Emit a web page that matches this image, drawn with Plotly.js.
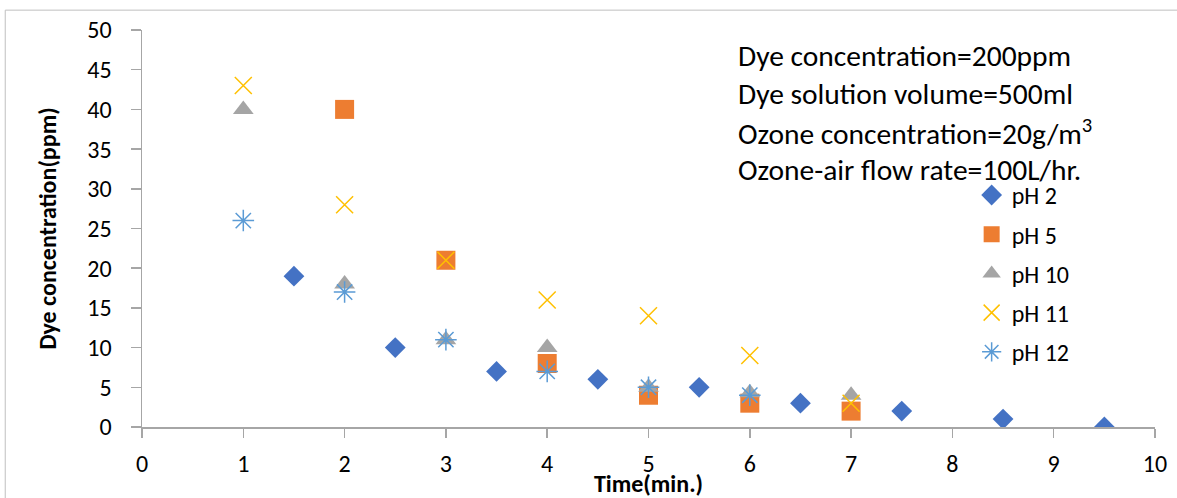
<!DOCTYPE html>
<html>
<head>
<meta charset="utf-8">
<script src="https://cdn.plot.ly/plotly-3.0.1.min.js"></script>
<style>
html,body{margin:0;padding:0;background:#fff;}
#chart{width:1177px;height:498px;}
</style>
</head>
<body>
<div id="chart"></div>
<script>
const seriesNames = ["pH 2", "pH 5", "pH 10", "pH 11", "pH 12"];
const timePH2 = [1.5, 2.5, 3.5, 4.5, 5.5, 6.5, 7.5, 8.5, 9.5];
const concPH2 = [19, 10, 7, 6, 5, 3, 2, 1, 0];
const timePH5 = [2, 3, 4, 5, 6, 7];
const concPH5 = [40, 21, 8, 4, 3, 2];
const timePH10 = [1, 2, 3, 4, 5, 6, 7];
const concPH10 = [40, 18, 11, 10, 5, 4.3, 4];
const timePH11 = [1, 2, 3, 4, 5, 6, 7];
const concPH11 = [43, 28, 21, 16, 14, 9, 3];
const timePH12 = [1, 2, 3, 4, 5, 6];
const concPH12 = [26, 17, 11, 7, 5, 4];
const xTicks = [0,1,2,3,4,5,6,7,8,9,10];
const yTicks = [0,5,10,15,20,25,30,35,40,45,50];
const notes = ["Dye concentration=200ppm", "Dye solution volume=500ml", "Ozone concentration=20g/m<sup>3</sup>", "Ozone-air flow rate=100L/hr."];

const FONT = "Carlito, Calibri, Lato, sans-serif";

const traces = [
  {x: timePH2, y: concPH2, name: seriesNames[0], mode: "markers", type: "scatter", legendgroup: "a",
   marker: {symbol: "diamond", size: 16, color: "#4472C4"}},
  {x: timePH5, y: concPH5, name: seriesNames[1], mode: "markers", type: "scatter", legendgroup: "b",
   marker: {symbol: "square", size: 19, color: "#ED7D31"}},
  {x: timePH10, y: concPH10, name: seriesNames[2], mode: "markers", type: "scatter", legendgroup: "c",
   marker: {symbol: "triangle-up", size: 18, color: "#A5A5A5"}},
  {x: timePH11, y: concPH11, name: seriesNames[3], mode: "markers", type: "scatter", legendgroup: "d",
   marker: {symbol: "x-thin-open", size: 17, color: "#FFC000", line: {color: "#FFC000", width: 1.5}}},
  {x: timePH12, y: concPH12, name: seriesNames[4], mode: "markers", type: "scatter", legendgroup: "e",
   marker: {symbol: "asterisk-open", size: 18, color: "#5B9BD5", line: {color: "#5B9BD5", width: 1.5}}}
];

const annotations = notes.map((t, i) => ({
  text: t, xref: "paper", yref: "paper", x: 0.586, y: 0.935 - i * 0.0955,
  xanchor: "left", yanchor: "middle", showarrow: false,
  font: {family: FONT, size: 29.5, color: "#000"}
}));

const layout = {
  width: 1177, height: 498,
  margin: {l: 142, r: 22, t: 30, b: 71},
  paper_bgcolor: "#fff", plot_bgcolor: "#fff",
  font: {family: FONT, color: "#000"},
  showlegend: true,
  legend: {x: 0.819, y: 0.64, xanchor: "left", yanchor: "top",
    font: {family: FONT, size: 24, color: "#000"},
    traceorder: "grouped", tracegroupgap: 5, bgcolor: "rgba(0,0,0,0)"},
  xaxis: {range: [0, 10], tickvals: xTicks, ticktext: xTicks.map(String),
    showgrid: false, zeroline: false, showline: true, linecolor: "#A6A6A6", linewidth: 1.5,
    ticks: "outside", ticklen: 9, tickcolor: "#A6A6A6", tickwidth: 1.5, ticklabelstandoff: 6,
    tickfont: {family: FONT, size: 24, color: "#000"},
    title: {text: "<b>Time(min.)</b>", font: {family: FONT, size: 24, color: "#000"}, standoff: 2}},
  yaxis: {range: [0, 50], tickvals: yTicks, ticktext: yTicks.map(String),
    showgrid: false, zeroline: false, showline: true, linecolor: "#A6A6A6", linewidth: 1.5,
    ticks: "outside", ticklen: 10, tickcolor: "#A6A6A6", tickwidth: 1.5, ticklabelstandoff: 14,
    tickfont: {family: FONT, size: 24, color: "#000"},
    title: {text: "<b>Dye concentration(ppm)</b>", font: {family: FONT, size: 24, color: "#000"}, standoff: 24}},
  annotations: annotations,
  shapes: [{type: "rect", xref: "paper", yref: "paper", x0: -0.135, x1: 1.03, y0: -0.2, y1: 1.05,
    line: {color: "#BFBFBF", width: 1}}]
};

Plotly.newPlot("chart", traces, layout, {displayModeBar: false, staticPlot: true});
</script>
</body>
</html>
